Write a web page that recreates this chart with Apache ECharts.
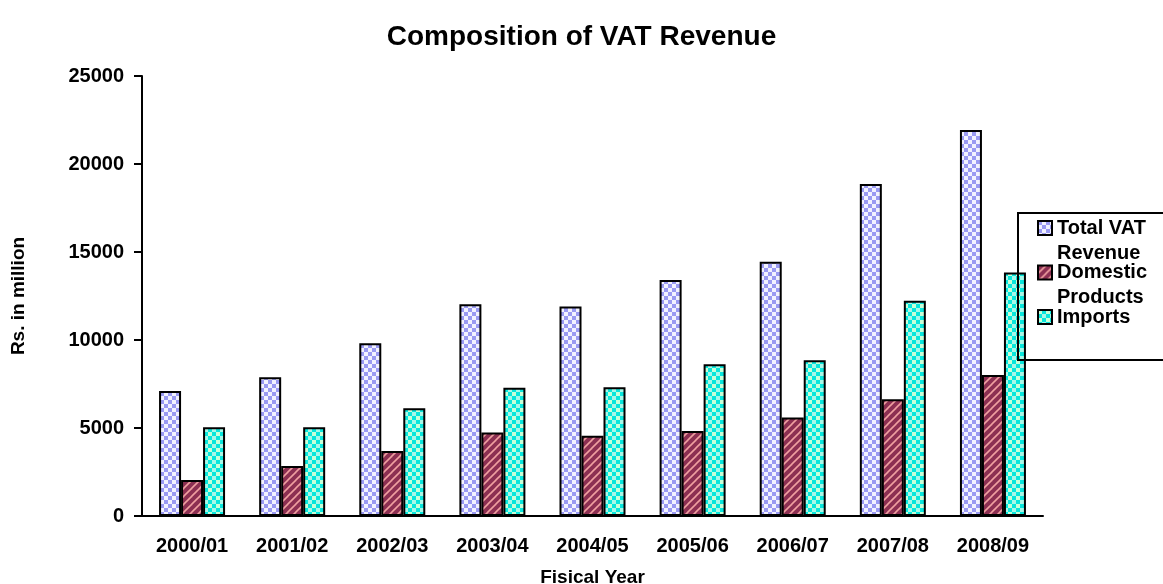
<!DOCTYPE html>
<html>
<head>
<meta charset="utf-8">
<script src="https://cdn.jsdelivr.net/npm/echarts@6/dist/echarts.min.js"></script>
<style>
  html, body { margin: 0; padding: 0; background: #fff; }
  #chart { width: 1163px; height: 584px; }
</style>
</head>
<body>
<div id="chart"></div>
<script>
// 数据
const years = ["2000/01", "2001/02", "2002/03", "2003/04", "2004/05", "2005/06", "2006/07", "2007/08", "2008/09"];
const totalVat = [7100, 7880, 9810, 12030, 11900, 13410, 14450, 18860, 21930];
const domestic = [2050, 2840, 3690, 4750, 4560, 4830, 5590, 6630, 8010];
const imports = [5040, 5040, 6120, 7290, 7310, 8620, 8850, 12230, 13830];
const seriesNames = ["Total VAT Revenue", "Domestic Products", "Imports"];
// 图例文字：首尾空行让图标对齐第一行
const legendLabels = [" \nTotal VAT\nRevenue", " \nDomestic\nProducts", " \nImports\n "];

// 填充图案
const makePattern = (draw) => {
  const c = document.createElement("canvas");
  c.width = 8;
  c.height = 8;
  draw(c.getContext("2d"));
  return { image: c, repeat: "repeat" };
};

const checkerBlue = makePattern(ctx => {
  ctx.fillStyle = "#f2f2ff";
  ctx.fillRect(0, 0, 8, 8);
  ctx.fillStyle = "#9a9af2";
  ctx.fillRect(0, 0, 4, 4);
  ctx.fillRect(4, 4, 4, 4);
});

const stripeMaroon = makePattern(ctx => {
  ctx.fillStyle = "#8c2f52";
  ctx.fillRect(0, 0, 8, 8);
  ctx.strokeStyle = "#f0a0a0";
  ctx.lineWidth = 1.6;
  [[-4, 4, 4, -4], [0, 8, 8, 0], [4, 12, 12, 4]].forEach(([x1, y1, x2, y2]) => {
    ctx.beginPath();
    ctx.moveTo(x1, y1);
    ctx.lineTo(x2, y2);
    ctx.stroke();
  });
});

const checkerCyan = makePattern(ctx => {
  ctx.fillStyle = "#08e6dc";
  ctx.fillRect(0, 0, 8, 8);
  ctx.fillStyle = "#c8ffd8";
  ctx.fillRect(0, 0, 4, 4);
  ctx.fillStyle = "#a8f8e8";
  ctx.fillRect(4, 4, 4, 4);
});

const font = "'Liberation Sans', Arial, sans-serif";
const myChart = echarts.init(document.getElementById("chart"));

const barStyle = fill => ({
  color: fill,
  borderColor: "#000",
  borderWidth: 2
});

const option = {
  backgroundColor: "#fff",
  animation: false,
  title: {
    text: "Composition of VAT Revenue",
    left: "center",
    top: 18,
    textStyle: { fontFamily: font, fontSize: 28, fontWeight: "bold", color: "#000" }
  },
  legend: {
    orient: "vertical",
    left: 1018,
    top: 213,
    padding: [-22.5, 80, 5.5, 19],
    itemGap: -30.5,
    itemWidth: 14,
    itemHeight: 14,
    icon: "rect",
    borderColor: "#000",
    borderWidth: 2,
    formatter: name => legendLabels[seriesNames.indexOf(name)],
    textStyle: { fontFamily: font, fontSize: 20, fontWeight: "bold", color: "#000", lineHeight: 25 },
    data: seriesNames
  },
  grid: {
    left: 142,
    right: 120,
    top: 76,
    bottom: 68,
    containLabel: false,
    outerBoundsMode: "none"
  },
  xAxis: {
    type: "category",
    data: years,
    name: "Fisical Year",
    nameLocation: "middle",
    nameGap: 52,
    nameTextStyle: { fontFamily: font, fontSize: 19, fontWeight: "bold", color: "#000" },
    axisLine: { lineStyle: { color: "#000", width: 2 } },
    axisTick: { length: 7, lineStyle: { color: "#000", width: 2 } },
    axisLabel: { margin: 20, fontFamily: font, fontSize: 20, fontWeight: "bold", color: "#000" }
  },
  yAxis: {
    type: "value",
    min: 0,
    max: 25000,
    interval: 5000,
    name: "Rs. in million",
    nameLocation: "middle",
    nameGap: 114,
    nameTextStyle: { fontFamily: font, fontSize: 19, fontWeight: "bold", color: "#000" },
    axisLine: { show: true, lineStyle: { color: "#000", width: 2 } },
    axisTick: { show: true, length: 8, lineStyle: { color: "#000", width: 2 } },
    axisLabel: {
      margin: 18,
      fontFamily: font,
      fontSize: 20,
      fontWeight: "bold",
      color: "#000",
      formatter: v => String(v)
    },
    splitLine: { show: false }
  },
  series: [
    {
      name: seriesNames[0],
      type: "bar",
      data: totalVat,
      barWidth: 22,
      barGap: "0%",
      itemStyle: barStyle(checkerBlue)
    },
    {
      name: seriesNames[1],
      type: "bar",
      data: domestic,
      barWidth: 22,
      barGap: "0%",
      itemStyle: barStyle(stripeMaroon)
    },
    {
      name: seriesNames[2],
      type: "bar",
      data: imports,
      barWidth: 22,
      barGap: "0%",
      itemStyle: barStyle(checkerCyan)
    }
  ]
};

myChart.setOption(option);
</script>
</body>
</html>
